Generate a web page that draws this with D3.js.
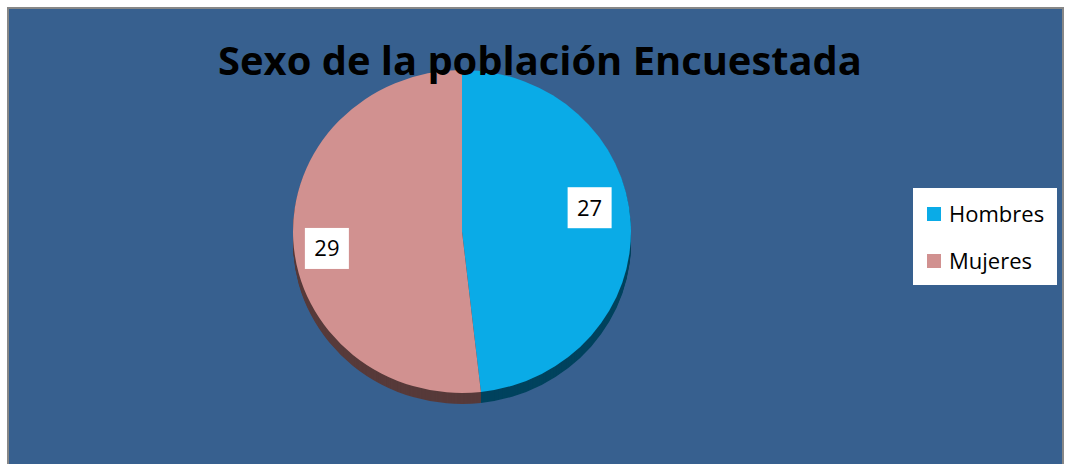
<!DOCTYPE html>
<html lang="es">
<head>
    <meta charset="UTF-8">
    <title>Sexo de la población Encuestada</title>
    <script src="https://d3js.org/d3.v7.min.js"></script>
    <style>
        body { margin: 0; background: #ffffff; }
        svg text { font-family: "Open Sans", "Liberation Sans", sans-serif; }
    </style>
</head>
<body>
<svg id="chart" width="1065" height="464"></svg>
<script>
    // datos del gráfico
    const categorias = ["Hombres", "Mujeres"];
    const valores = [27, 29];
    const colores = ["#0aabe7", "#d19190"];
    const coloresLado = ["#00435e", "#573a3a"];
    const titulo = "Sexo de la población Encuestada";

    const width = 1065, height = 464;
    const svg = d3.select("#chart");

    // fondo del área del gráfico
    svg.append("rect")
        .attr("x", 8).attr("y", 8)
        .attr("width", 1055).attr("height", 470)
        .attr("fill", "#37608f")
        .attr("stroke", "#878787")
        .attr("stroke-width", 2);

    // pastel (elipse ligeramente inclinada)
    const cx = 462, cy = 231.5, rx = 169, ry = 161.5, depth = 11;
    const datos = categorias.map((c, i) => ({ cat: c, val: valores[i], i: i }));
    const pie = d3.pie().value(d => d.val).sort(null);
    const arcos = pie(datos);
    const arc = d3.arc().innerRadius(0).outerRadius(rx);

    const g = svg.append("g").attr("transform", `translate(${cx},${cy})`);

    // lado 3D: copias desplazadas hacia abajo
    for (let k = depth; k >= 1; k--) {
        g.append("g")
            .attr("transform", `translate(0,${k}) scale(1,${ry / rx})`)
            .selectAll("path")
            .data(arcos)
            .enter().append("path")
            .attr("d", arc)
            .attr("fill", d => coloresLado[d.data.i]);
    }

    g.append("g")
        .attr("transform", `scale(1,${ry / rx})`)
        .selectAll("path")
        .data(arcos)
        .enter().append("path")
        .attr("d", arc)
        .attr("fill", d => colores[d.data.i]);

    // etiquetas de datos
    const rot = -6 * Math.PI / 180;
    const labels = g.selectAll(".lbl")
        .data(arcos)
        .enter().append("g")
        .attr("class", "lbl")
        .attr("transform", d => {
            const a = (d.startAngle + d.endAngle) / 2 + rot;
            const f = d.data.i === 0 ? 0.765 : 0.81;
            return `translate(${Math.sin(a) * rx * f},${-Math.cos(a) * ry * f - 4})`;
        });
    labels.append("rect")
        .attr("x", -22).attr("y", -20.5)
        .attr("width", 44).attr("height", 41)
        .attr("fill", "#ffffff");
    labels.append("text")
        .attr("text-anchor", "middle")
        .attr("dy", "0.36em")
        .attr("font-size", 22)
        .attr("fill", "#000")
        .text(d => d.data.val);

    // título
    const t = svg.append("text")
        .attr("x", 540).attr("y", 75)
        .attr("text-anchor", "middle")
        .attr("font-weight", "bold")
        .attr("font-size", 44)
        .attr("fill", "#000")
        .text(titulo);
    const tw = t.node().getComputedTextLength();
    t.attr("font-size", 44 * 644 / tw);

    // leyenda
    const leg = svg.append("g").attr("transform", "translate(913,188)");
    leg.append("rect")
        .attr("width", 144).attr("height", 97)
        .attr("fill", "#ffffff");
    const items = leg.selectAll(".item")
        .data(categorias)
        .enter().append("g")
        .attr("class", "item")
        .attr("transform", (d, i) => `translate(14,${19 + i * 47})`);
    items.append("rect")
        .attr("width", 14).attr("height", 14)
        .attr("fill", (d, i) => colores[i]);
    items.append("text")
        .attr("x", 22).attr("y", 15)
        .attr("font-size", 22)
        .attr("fill", "#000")
        .text(d => d);
</script>
</body>
</html>
